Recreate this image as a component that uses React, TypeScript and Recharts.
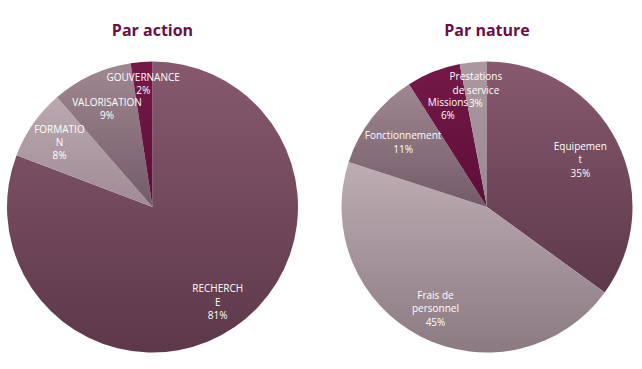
import React from 'react';
import { PieChart, Pie, Cell } from 'recharts';

// Par action
const actionCategories = ['RECHERCHE', 'FORMATION', 'VALORISATION', 'GOUVERNANCE'];
const actionValues = [80.8, 7.8, 9.0, 2.4];
const actionPercentLabels = ['81%', '8%', '9%', '2%'];
const actionLabelLines = [['RECHERCH', 'E'], ['FORMATIO', 'N'], ['VALORISATION'], ['GOUVERNANCE']];

// Par nature
const natureCategories = ['Equipement', 'Frais de personnel', 'Fonctionnement', 'Missions', 'Prestations de service'];
const natureValues = [35, 45, 11, 6, 3];
const naturePercentLabels = ['35%', '45%', '11%', '6%', '3%'];
const natureLabelLines = [['Equipemen', 't'], ['Frais de', 'personnel'], ['Fonctionnement'], ['Missions'], ['Prestations', 'de service']];

const titles = ['Par action', 'Par nature'];

// styling: label distance (fraction of radius) per slice
const actionLabelRadius = [0.79, 0.78, 0.745, 0.85];
const natureLabelRadius = [0.72, 0.78, 0.73, 0.73, 0.81];

const actionColors = [
  ['#87596e', '#5d384a'],
  ['#bba8b0', '#a08b94'],
  ['#a08892', '#735a67'],
  ['#751848', '#5b0f37'],
];
const natureColors = [
  ['#87596e', '#5d384a'],
  ['#bfadb4', '#8b7a82'],
  ['#a08892', '#735a67'],
  ['#751848', '#5b0f37'],
  ['#ab98a1', '#9a8790'],
];

const actionData = actionCategories.map((name, i) => ({
  name,
  value: actionValues[i],
  pct: actionPercentLabels[i],
  lines: actionLabelLines[i],
}));
const natureData = natureCategories.map((name, i) => ({
  name,
  value: natureValues[i],
  pct: naturePercentLabels[i],
  lines: natureLabelLines[i],
}));

const RAD = Math.PI / 180;

const makeLabel = (radii: number[]) => (props: any) => {
  const { cx, cy, midAngle, outerRadius, payload, index } = props;
  const p = payload && payload.payload ? payload.payload : payload;
  const r = outerRadius * (radii[index] ?? 0.77);
  const x = cx + r * Math.cos(-midAngle * RAD);
  const y = cy + r * Math.sin(-midAngle * RAD);
  const lines: string[] = [...(p.lines || [p.name]), p.pct];
  const lh = 13.4;
  const y0 = y - ((lines.length - 1) * lh) / 2;
  return (
    <text
      x={x}
      y={y0}
      fill="#ffffff"
      textAnchor="middle"
      dominantBaseline="central"
      fontFamily="'Open Sans', sans-serif"
      fontSize={10}
    >
      {lines.map((l, i) => (
        <tspan key={i} x={x} y={y0 + i * lh}>
          {l}
        </tspan>
      ))}
    </text>
  );
};

export default function App() {
  return (
    <div style={{ position: 'absolute', left: 0, top: 0, width: 642, height: 369, background: '#ffffff' }}>
      <PieChart width={642} height={369} margin={{ top: 0, right: 0, bottom: 0, left: 0 }}>
        <defs>
          {actionColors.map((c, i) => (
            <linearGradient key={'a' + i} id={'ga' + i} x1="0" y1="0" x2="0" y2="1">
              <stop offset="0%" stopColor={c[0]} />
              <stop offset="100%" stopColor={c[1]} />
            </linearGradient>
          ))}
          {natureColors.map((c, i) => (
            <linearGradient key={'n' + i} id={'gn' + i} x1="0" y1="0" x2="0" y2="1">
              <stop offset="0%" stopColor={c[0]} />
              <stop offset="100%" stopColor={c[1]} />
            </linearGradient>
          ))}
        </defs>
        <Pie
          data={actionData}
          dataKey="value"
          nameKey="name"
          cx={152.5}
          cy={207}
          outerRadius={145.5}
          startAngle={90}
          endAngle={-270}
          stroke="none"
          label={makeLabel(actionLabelRadius)}
          labelLine={false}
          isAnimationActive={false}
        >
          {actionData.map((d, i) => (
            <Cell key={d.name} fill={`url(#ga${i})`} />
          ))}
        </Pie>
        <Pie
          data={natureData}
          dataKey="value"
          nameKey="name"
          cx={487}
          cy={207}
          outerRadius={145.5}
          startAngle={90}
          endAngle={-270}
          stroke="none"
          label={makeLabel(natureLabelRadius)}
          labelLine={false}
          isAnimationActive={false}
        >
          {natureData.map((d, i) => (
            <Cell key={d.name} fill={`url(#gn${i})`} />
          ))}
        </Pie>
      </PieChart>
      {titles.map((t, i) => (
        <div
          key={t}
          style={{
            position: 'absolute',
            top: 19,
            left: i === 0 ? 152.5 - 100 : 487 - 100,
            width: 200,
            textAlign: 'center',
            fontFamily: "'Open Sans', sans-serif",
            fontWeight: 700,
            fontSize: 16,
            color: '#6b0f45',
            lineHeight: '22px',
          }}
        >
          {t}
        </div>
      ))}
    </div>
  );
}
